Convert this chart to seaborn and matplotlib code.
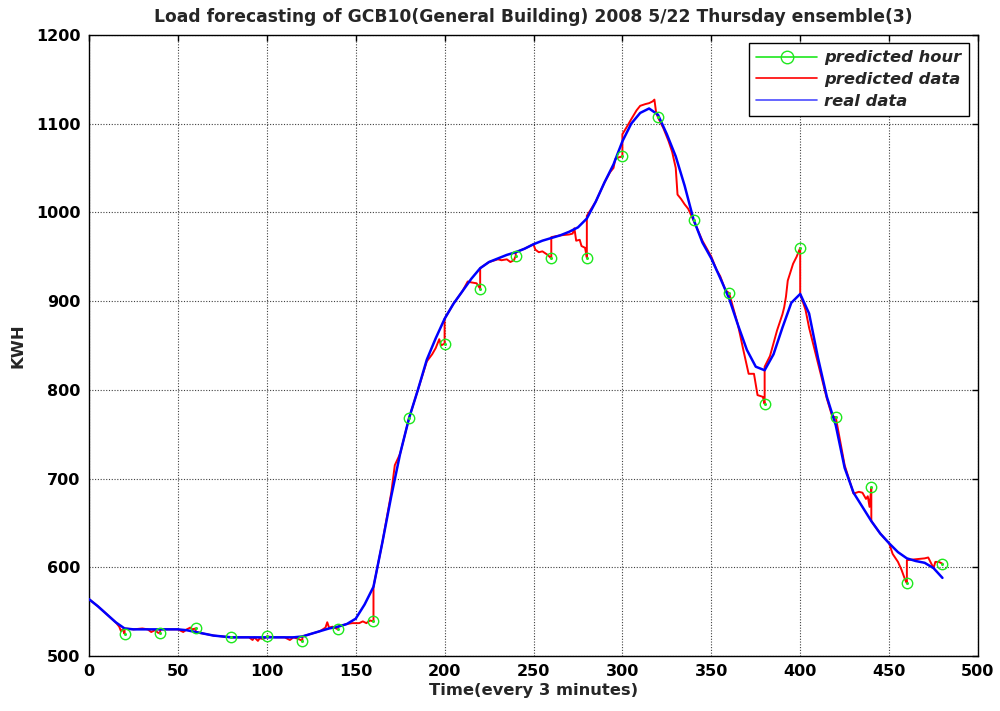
import matplotlib
matplotlib.use("Agg")
import matplotlib.pyplot as plt
import seaborn as sns
from matplotlib.lines import Line2D

# Measured load, sampled every 5 steps (one step = 3 minutes)
real_time = [0, 5, 10, 15, 20, 25, 30, 35, 40, 45, 50, 55, 60, 65, 70, 75, 80, 85, 90, 95,
             100, 105, 110, 115, 120, 125, 130, 135, 140, 145, 150, 155, 160, 165, 170, 175,
             180, 185, 190, 195, 200, 205, 210, 215, 220, 225, 230, 235, 240, 245, 250, 255,
             260, 265, 270, 275, 280, 285, 290, 295, 300, 305, 310, 315, 320, 325, 330, 335,
             340, 345, 350, 355, 360, 365, 370, 375, 380, 385, 390, 395, 400, 405, 410, 415,
             420, 425, 430, 435, 440, 445, 450, 455, 460, 465, 470, 475, 480]
real_load = [564, 556, 547, 538, 531, 530, 530, 530, 530, 530, 530, 529, 527, 525, 523, 522,
             521, 521, 521, 521, 521, 521, 521, 521, 522, 525, 528, 531, 533, 536, 542, 558,
             578, 628, 680, 728, 768, 800, 834, 858, 880, 897, 911, 925, 937, 944, 948, 952,
             955, 959, 964, 968, 971, 974, 978, 983, 993, 1012, 1034, 1054, 1080, 1100, 1112,
             1117, 1110, 1088, 1063, 1030, 992, 966, 948, 926, 903, 873, 845, 826, 822, 840,
             870, 898, 908, 886, 836, 792, 760, 712, 684, 668, 652, 638, 627, 617, 610, 607,
             605, 599, 588]

# Forecast trace; repeated times mark the reset to the measured value at each hour
pred_time = [0, 5, 10, 15, 17, 18, 19, 20, 20, 25, 30, 33, 35, 37, 39, 40, 40, 45, 50, 53,
             55, 57, 58, 60, 60, 65, 70, 75, 80, 85, 90, 92, 93, 95, 96, 98, 100, 105, 110,
             113, 115, 118, 120, 120, 125, 130, 133, 134, 135, 137, 140, 140, 145, 148, 152,
             154, 156, 158, 160, 160, 165, 170, 172, 175, 180, 185, 190, 193, 195, 197, 198,
             200, 200, 205, 210, 213, 215, 218, 220, 220, 225, 230, 232, 235, 237, 239, 240,
             240, 245, 250, 251, 253, 255, 258, 260, 260, 265, 270, 272, 273, 274, 276, 277,
             279, 280, 280, 285, 290, 293, 295, 296, 298, 300, 300, 303, 305, 308, 310, 313,
             315, 317, 318, 319, 320, 323, 326, 328, 330, 331, 333, 335, 337, 340, 345, 350,
             353, 355, 358, 360, 365, 368, 371, 374, 376, 379, 380, 380, 383, 387, 390, 391,
             392, 393, 396, 398, 400, 400, 403, 405, 410, 415, 418, 420, 425, 430, 433, 435,
             437, 438, 439, 440, 440, 445, 450, 452, 455, 457, 459, 460, 460, 465, 470, 472,
             475, 476, 478, 480]
pred_load = [564, 556, 547, 538, 533, 528, 530, 525, 531, 530, 531, 530, 527, 529, 526, 526,
             530, 530, 530, 527, 530, 532, 530, 531, 527, 525, 523, 522, 521, 521, 521, 518,
             521, 517, 520, 519, 522, 521, 521, 518, 521, 519, 517, 522, 525, 528, 532, 538,
             532, 533, 530, 533, 536, 537, 537, 539, 537, 540, 539, 578, 628, 684, 715, 728,
             768, 800, 832, 840, 847, 857, 850, 852, 880, 897, 911, 922, 921, 920, 914, 937,
             944, 947, 946, 947, 944, 946, 951, 955, 959, 964, 958, 955, 956, 952, 948, 972,
             974, 975, 976, 982, 968, 969, 962, 960, 949, 996, 1012, 1034, 1045, 1050, 1060,
             1062, 1063, 1088, 1098, 1105, 1115, 1120, 1122, 1123, 1125, 1127, 1112, 1107,
             1095, 1080, 1068, 1050, 1020, 1015, 1009, 1004, 991, 968, 950, 935, 928, 912,
             909, 873, 845, 818, 818, 794, 792, 784, 826, 838, 867, 885, 893, 905, 923, 942,
             950, 960, 908, 890, 870, 830, 790, 770, 769, 715, 683, 685, 684, 677, 680, 668,
             690, 652, 638, 627, 615, 606, 597, 586, 582, 608, 609, 610, 611, 599, 606, 606,
             604]

# Forecast value at the start of each hour
hour_time = [20, 40, 60, 80, 100, 120, 140, 160, 180, 200, 220, 240, 260, 280, 300, 320,
             340, 360, 380, 400, 420, 440, 460, 480]
hour_load = [525, 526, 531, 521, 522, 517, 530, 539, 768, 852, 914, 951, 948, 949, 1063,
             1107, 991, 909, 784, 960, 769, 690, 582, 604]

x_ticks = [0, 50, 100, 150, 200, 250, 300, 350, 400, 450, 500]
y_ticks = [500, 600, 700, 800, 900, 1000, 1100, 1200]

sns.set_style("white")
plt.rcParams["font.family"] = ["DejaVu Sans"]
plt.rcParams["font.weight"] = "bold"

GREEN = "#1ee81e"
RED = "#ff0000"
BLUE = "#0000ff"

fig, ax = plt.subplots(figsize=(10, 7.11), dpi=100)
fig.subplots_adjust(left=0.089, right=0.978, bottom=0.0774, top=0.951)

sns.lineplot(x=pred_time, y=pred_load, sort=False, estimator=None, color=RED,
             linewidth=1.4, ax=ax, zorder=3)
sns.lineplot(x=real_time, y=real_load, sort=False, estimator=None, color=BLUE,
             linewidth=1.8, ax=ax, zorder=4)
sns.lineplot(x=hour_time, y=hour_load, sort=False, estimator=None, color=GREEN,
             linestyle="", marker="o", markersize=7.5, markerfacecolor="none",
             markeredgecolor=GREEN, markeredgewidth=1.0, ax=ax, zorder=5)
sns.lineplot(x=hour_time, y=hour_load, sort=False, estimator=None, color=GREEN,
             linestyle="", marker="o", markersize=2.2, markeredgewidth=0, ax=ax, zorder=6)

ax.set_xlim(0, 500)
ax.set_ylim(500, 1200)
ax.set_xticks(x_ticks)
ax.set_yticks(y_ticks)
ax.tick_params(direction="in", length=4, width=1, top=True, right=True,
               labelsize=11.5, pad=6, colors="black")
for lab in ax.get_xticklabels() + ax.get_yticklabels():
    lab.set_fontweight("bold")

ax.grid(True, color="#404040", linestyle=(0, (1, 1.5)), linewidth=0.8)
for sp in ax.spines.values():
    sp.set_visible(True)
    sp.set_color("black")
    sp.set_linewidth(1.0)

ax.set_title("Load forecasting of GCB10(General Building) 2008 5/22 Thursday ensemble(3)",
             fontsize=12.3, fontweight="bold", pad=9)
ax.set_xlabel("Time(every 3 minutes)", fontsize=11.8, fontweight="bold", labelpad=3)
ax.set_ylabel("KWH", fontsize=11.8, fontweight="bold", labelpad=8)

handles = [
    Line2D([], [], color=GREEN, linewidth=1.2, marker="o", markersize=9,
           markerfacecolor="none", markeredgecolor=GREEN),
    Line2D([], [], color=RED, linewidth=1.2),
    Line2D([], [], color=BLUE, linewidth=1.2, alpha=0.7),
]
leg = ax.legend(handles, ["predicted hour", "predicted data", "real data"],
                loc="upper right", bbox_to_anchor=(0.99, 0.987), borderaxespad=0,
                frameon=True, fancybox=False, framealpha=1, edgecolor="black",
                handlelength=3.7, handletextpad=0.45, borderpad=0.45, labelspacing=0.42,
                prop={"size": 11.8, "weight": "bold", "style": "italic"})
leg.get_frame().set_linewidth(1.0)

fig.savefig("out.png", dpi=100, facecolor="white")
